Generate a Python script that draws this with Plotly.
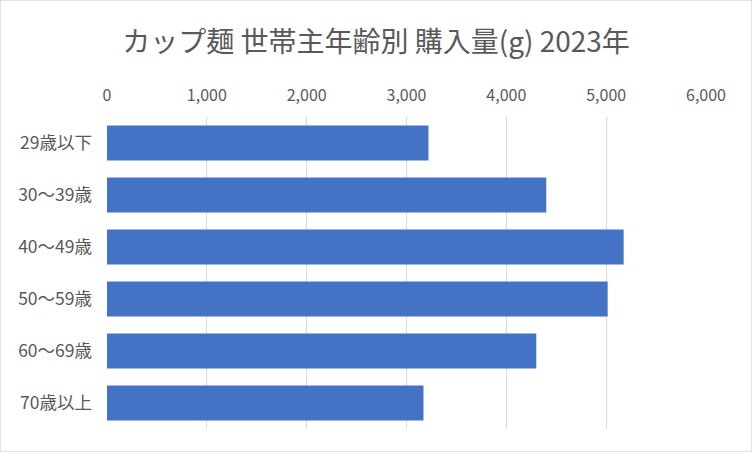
import plotly.graph_objects as go

categories = ["29歳以下", "30～39歳", "40～49歳", "50～59歳", "60～69歳", "70歳以上"]
values = [3220, 4400, 5175, 5015, 4300, 3170]
x_ticks = [0, 1000, 2000, 3000, 4000, 5000, 6000]
x_tick_labels = ["0", "1,000", "2,000", "3,000", "4,000", "5,000", "6,000"]
title_text = "カップ麺 世帯主年齢別 購入量(g) 2023年"

FONT = "Noto Sans CJK JP"
GRAY = "#595959"

fig = go.Figure(go.Bar(
    x=values, y=categories, orientation="h",
    marker=dict(color="#4472C4", line=dict(width=0)),
))

fig.update_layout(
    width=752, height=452,
    margin=dict(l=107, r=46, t=117, b=23),
    paper_bgcolor="white", plot_bgcolor="white",
    bargap=0.33,
    showlegend=False,
    font=dict(family=FONT, color=GRAY),
    title=dict(text=title_text, x=0.5, xanchor="center", y=0.907, yanchor="middle",
               font=dict(family=FONT, size=28, color=GRAY)),
    xaxis=dict(range=[0, 6000], side="top", tickvals=x_ticks, ticktext=x_tick_labels,
               showgrid=True, gridcolor="#d9d9d9", gridwidth=1, zeroline=False,
               showline=False, ticks="", tickfont=dict(size=16, color=GRAY),
               ticklabelstandoff=12, fixedrange=True),
    yaxis=dict(autorange="reversed", showgrid=False, zeroline=False,
               showline=False, ticks="", tickfont=dict(size=17.5, color=GRAY),
               ticklabelstandoff=14),
    shapes=[dict(type="rect", xref="paper", yref="paper", x0=-107/599, x1=1+46/599,
                 y0=-23/312, y1=1+117/312, line=dict(color="#d9d9d9", width=1.5),
                 fillcolor="rgba(0,0,0,0)", layer="below")],
)

fig.write_html("out.html")
